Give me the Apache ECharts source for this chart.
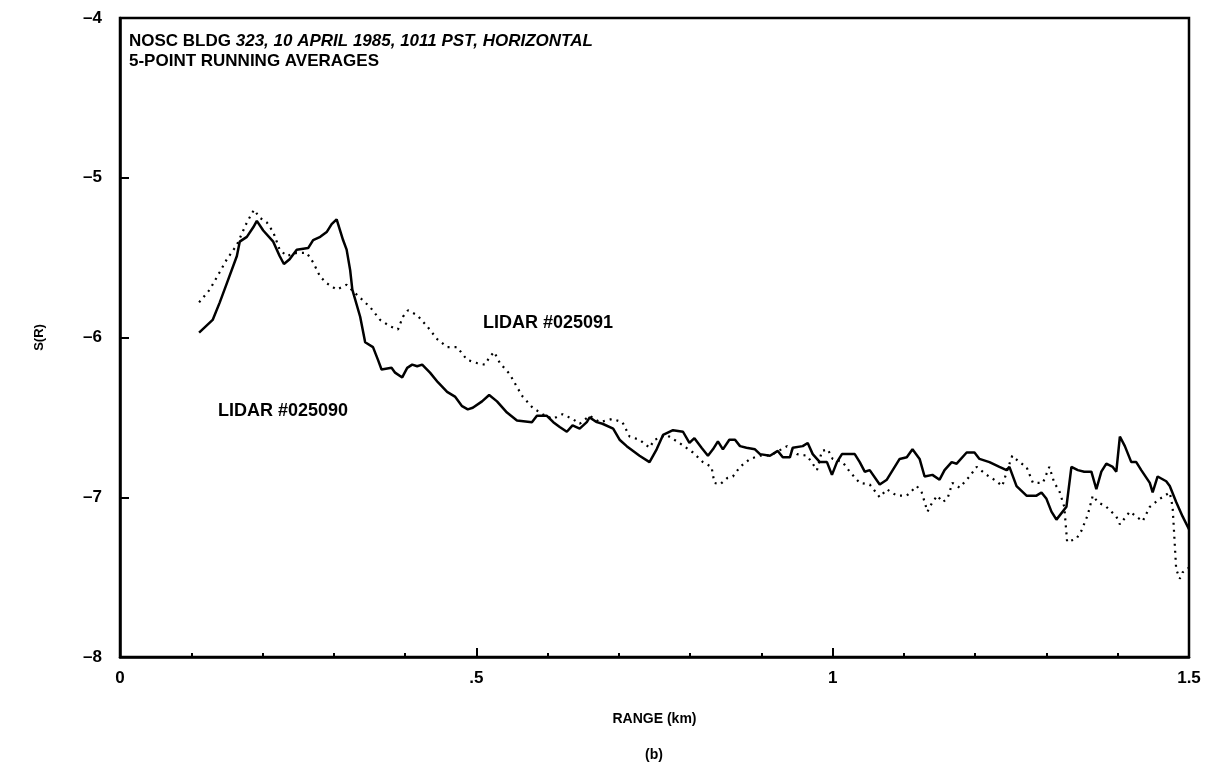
<!DOCTYPE html>
<html>
<head>
<meta charset="utf-8">
<script src="https://cdn.jsdelivr.net/npm/echarts@6/dist/echarts.min.js"></script>
<style>
html,body{margin:0;padding:0;background:#fff;}
#chart{width:1211px;height:766px;}
</style>
</head>
<body>
<div id="chart"></div>
<script>
// LIDAR #025090 (solid): [range km, S(R)]
var lidar025090 = [
[0.111,-5.97],[0.130,-5.89],[0.140,-5.78],[0.150,-5.66],[0.164,-5.49],[0.168,-5.40],[0.178,-5.37],
[0.187,-5.31],[0.192,-5.27],[0.201,-5.33],[0.215,-5.40],[0.224,-5.49],[0.230,-5.54],[0.238,-5.51],
[0.248,-5.45],[0.264,-5.44],[0.271,-5.39],[0.281,-5.37],[0.290,-5.34],[0.297,-5.29],[0.304,-5.26],
[0.313,-5.39],[0.318,-5.45],[0.323,-5.58],[0.326,-5.70],[0.337,-5.87],[0.344,-6.03],[0.355,-6.06],
[0.362,-6.14],[0.367,-6.20],[0.381,-6.19],[0.386,-6.22],[0.396,-6.25],[0.403,-6.19],[0.410,-6.17],
[0.417,-6.18],[0.424,-6.17],[0.435,-6.22],[0.446,-6.28],[0.459,-6.34],[0.470,-6.37],[0.480,-6.43],
[0.488,-6.45],[0.495,-6.44],[0.508,-6.40],[0.518,-6.36],[0.529,-6.40],[0.543,-6.47],[0.557,-6.52],
[0.578,-6.53],[0.585,-6.49],[0.599,-6.49],[0.608,-6.53],[0.617,-6.56],[0.627,-6.59],[0.635,-6.55],
[0.645,-6.57],[0.655,-6.53],[0.659,-6.50],[0.669,-6.53],[0.677,-6.54],[0.692,-6.57],[0.701,-6.64],
[0.711,-6.68],[0.729,-6.74],[0.743,-6.78],[0.753,-6.70],[0.762,-6.61],[0.776,-6.58],[0.790,-6.59],
[0.799,-6.66],[0.806,-6.63],[0.816,-6.69],[0.825,-6.74],[0.832,-6.70],[0.839,-6.65],[0.846,-6.70],
[0.855,-6.64],[0.863,-6.64],[0.870,-6.68],[0.879,-6.69],[0.891,-6.70],[0.898,-6.73],[0.912,-6.74],
[0.923,-6.71],[0.930,-6.75],[0.940,-6.75],[0.944,-6.69],[0.958,-6.68],[0.965,-6.66],[0.972,-6.73],
[0.982,-6.78],[0.992,-6.78],[0.999,-6.86],[1.006,-6.78],[1.013,-6.73],[1.031,-6.73],[1.038,-6.78],
[1.045,-6.84],[1.052,-6.83],[1.066,-6.92],[1.076,-6.89],[1.094,-6.76],[1.104,-6.75],[1.112,-6.70],
[1.122,-6.76],[1.129,-6.87],[1.140,-6.86],[1.150,-6.89],[1.157,-6.83],[1.167,-6.78],[1.174,-6.79],
[1.188,-6.72],[1.199,-6.72],[1.206,-6.76],[1.220,-6.78],[1.234,-6.81],[1.244,-6.83],[1.248,-6.81],
[1.258,-6.93],[1.272,-6.99],[1.286,-6.99],[1.293,-6.97],[1.300,-7.01],[1.307,-7.09],[1.314,-7.14],
[1.328,-7.06],[1.335,-6.81],[1.344,-6.83],[1.353,-6.84],[1.363,-6.84],[1.370,-6.95],[1.377,-6.84],
[1.384,-6.79],[1.393,-6.81],[1.398,-6.84],[1.403,-6.62],[1.410,-6.68],[1.419,-6.78],[1.426,-6.78],
[1.433,-6.83],[1.445,-6.91],[1.449,-6.97],[1.456,-6.87],[1.468,-6.90],[1.473,-6.93],[1.482,-7.03],
[1.491,-7.12],[1.500,-7.20]
];
// LIDAR #025091 (dotted): [range km, S(R)]
var lidar025091 = [
[0.111,-5.78],[0.126,-5.70],[0.140,-5.59],[0.150,-5.51],[0.164,-5.42],[0.178,-5.28],[0.188,-5.20],
[0.196,-5.25],[0.206,-5.28],[0.215,-5.34],[0.224,-5.45],[0.234,-5.49],[0.248,-5.47],[0.262,-5.47],
[0.271,-5.53],[0.281,-5.62],[0.290,-5.66],[0.304,-5.70],[0.318,-5.67],[0.327,-5.71],[0.351,-5.81],
[0.365,-5.89],[0.379,-5.93],[0.390,-5.95],[0.397,-5.87],[0.404,-5.83],[0.417,-5.86],[0.431,-5.93],
[0.445,-6.01],[0.459,-6.06],[0.473,-6.06],[0.487,-6.14],[0.501,-6.16],[0.512,-6.17],[0.519,-6.12],
[0.525,-6.09],[0.533,-6.16],[0.547,-6.23],[0.557,-6.31],[0.565,-6.37],[0.579,-6.44],[0.593,-6.48],
[0.607,-6.51],[0.621,-6.48],[0.635,-6.51],[0.645,-6.54],[0.659,-6.49],[0.673,-6.53],[0.691,-6.51],
[0.705,-6.53],[0.715,-6.62],[0.729,-6.64],[0.743,-6.69],[0.750,-6.64],[0.767,-6.61],[0.785,-6.66],
[0.804,-6.72],[0.818,-6.78],[0.830,-6.81],[0.834,-6.91],[0.842,-6.92],[0.852,-6.88],[0.860,-6.87],
[0.870,-6.81],[0.884,-6.76],[0.898,-6.74],[0.907,-6.74],[0.916,-6.73],[0.936,-6.68],[0.950,-6.73],
[0.964,-6.74],[0.972,-6.79],[0.978,-6.83],[0.985,-6.71],[0.993,-6.70],[1.000,-6.76],[1.014,-6.78],
[1.024,-6.84],[1.038,-6.91],[1.052,-6.92],[1.066,-7.00],[1.076,-6.95],[1.090,-6.99],[1.104,-6.99],
[1.118,-6.93],[1.125,-6.97],[1.133,-7.09],[1.140,-7.03],[1.147,-6.99],[1.154,-7.03],[1.161,-7.01],
[1.168,-6.91],[1.178,-6.94],[1.192,-6.87],[1.202,-6.81],[1.216,-6.86],[1.230,-6.90],[1.238,-6.93],
[1.245,-6.83],[1.252,-6.74],[1.262,-6.78],[1.272,-6.81],[1.281,-6.91],[1.295,-6.91],[1.304,-6.81],
[1.311,-6.91],[1.318,-6.96],[1.325,-7.06],[1.329,-7.28],[1.342,-7.26],[1.349,-7.21],[1.358,-7.11],
[1.365,-6.99],[1.372,-7.03],[1.384,-7.06],[1.398,-7.12],[1.403,-7.17],[1.417,-7.09],[1.435,-7.15],
[1.445,-7.06],[1.459,-7.01],[1.473,-6.97],[1.477,-7.06],[1.482,-7.45],[1.487,-7.51],[1.491,-7.47],
[1.500,-7.44]
];
var xTickValues = [0, 0.5, 1, 1.5];
var xTickLabels = ['0', '.5', '1', '1.5'];
var yTickValues = [-8, -7, -6, -5, -4];
var yTickLabels = ['\u20138', '\u20137', '\u20136', '\u20135', '\u20134'];
var titleLine1a = 'NOSC BLDG ';
var titleLine1b = '323, 10 APRIL 1985, 1011 PST, HORIZONTAL';
var titleLine2 = '5-POINT RUNNING AVERAGES';
var seriesNames = ['LIDAR #025090', 'LIDAR #025091'];
var xAxisName = 'RANGE (km)';
var yAxisName = 'S(R)';
var panelLabel = '(b)';

var FONT = '"Liberation Sans", Arial, Helvetica, sans-serif';
function lookup(vals, labels, v) {
  for (var i = 0; i < vals.length; i++) if (Math.abs(vals[i] - v) < 1e-9) return labels[i];
  return '';
}
var chart = echarts.init(document.getElementById('chart'), null, {renderer: 'canvas'});
chart.setOption({
  backgroundColor: '#fff',
  animation: false,
  grid: {left: 120, right: 22, top: 18, bottom: 109, show: true, borderColor: '#000', borderWidth: 2.5, backgroundColor: 'transparent'},
  xAxis: {
    type: 'value', min: 0, max: 1.5, interval: 0.5,
    axisLine: {show: true, lineStyle: {color: '#000', width: 2.5}},
    axisTick: {show: true, inside: true, length: 9, lineStyle: {color: '#000', width: 2}},
    minorTick: {show: true, splitNumber: 5, length: 4, lineStyle: {color: '#000', width: 2}},
    splitLine: {show: false},
    axisLabel: {color: '#000', fontFamily: FONT, fontWeight: 'bold', fontSize: 17, margin: 13,
      formatter: function (v) { return lookup(xTickValues, xTickLabels, v); }},
    name: xAxisName, nameLocation: 'middle', nameGap: 55,
    nameTextStyle: {color: '#000', fontFamily: FONT, fontWeight: 'bold', fontSize: 14}
  },
  yAxis: {
    type: 'value', min: -8, max: -4, interval: 1,
    axisLine: {show: true, lineStyle: {color: '#000', width: 2.5}},
    axisTick: {show: true, inside: true, length: 9, lineStyle: {color: '#000', width: 2}},
    splitLine: {show: false},
    axisLabel: {color: '#000', fontFamily: FONT, fontWeight: 'bold', fontSize: 17, margin: 18,
      formatter: function (v) { return lookup(yTickValues, yTickLabels, v); }},
    name: yAxisName, nameLocation: 'middle', nameGap: 74, nameRotate: 90,
    nameTextStyle: {color: '#000', fontFamily: FONT, fontWeight: 'bold', fontSize: 13}
  },
  series: [
    {name: seriesNames[0], type: 'line', data: lidar025090, showSymbol: false, smooth: false,
     lineStyle: {color: '#000', width: 2.5, type: 'solid'}},
    {name: seriesNames[1], type: 'line', data: lidar025091, showSymbol: false, smooth: false,
     lineStyle: {color: '#000', width: 2.2, type: [2, 5]}}
  ],
  graphic: [
    {type: 'text', left: 129, top: 33, style: {
      text: '{a|' + titleLine1a + '}{b|' + titleLine1b + '}',
      rich: {
        a: {fontFamily: FONT, fontWeight: 'bold', fontSize: 17, fill: '#000'},
        b: {fontFamily: FONT, fontWeight: 'bold', fontStyle: 'italic', fontSize: 17, fill: '#000'}
      }}},
    {type: 'text', left: 129, top: 53, style: {text: titleLine2, fontFamily: FONT, fontWeight: 'bold', fontSize: 17, fill: '#000'}},
    {type: 'text', left: 483, top: 314, style: {text: seriesNames[1], fontFamily: FONT, fontWeight: 'bold', fontSize: 18, fill: '#000'}},
    {type: 'text', left: 218, top: 402, style: {text: seriesNames[0], fontFamily: FONT, fontWeight: 'bold', fontSize: 18, fill: '#000'}},
    {type: 'text', left: 645, top: 748, style: {text: panelLabel, fontFamily: FONT, fontWeight: 'bold', fontSize: 14, fill: '#000'}}
  ]
});
</script>
</body>
</html>
